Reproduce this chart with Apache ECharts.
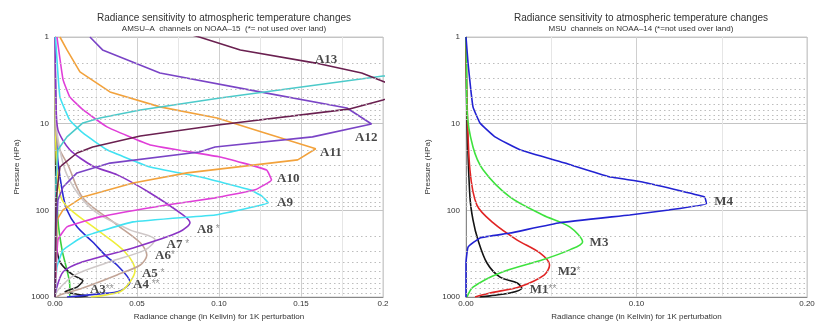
<!DOCTYPE html>
<html>
<head>
<meta charset="utf-8">
<script src="https://cdn.jsdelivr.net/npm/echarts@6/dist/echarts.min.js"></script>
<style>
html,body{margin:0;padding:0;background:#fff;}
#c{width:819px;height:326px;}
</style>
</head>
<body>
<div id="c"></div>
<script>
// ---------- DATA: [radiance change (K), pressure (hPa)] ----------
// AMSU-A (left panel)
const a13 = [[0.070,0.8],[0.088,1],[0.113,1.41],[0.159,2.0],[0.187,2.6],[0.201,3.3],[0.215,4.2],[0.200,5.33],[0.179,6.8],[0.1006,10.3],[0.052,13.9],[0.023,18.6],[0.0134,21.8],[0.003,31.6],[0.0006,76],[0,1000]];
const a14 = [[0.30,1],[0.32,1.8],[0.200,2.82],[0.1006,5.05],[0.052,6.95],[0.0274,8.6],[0.017,9.8],[0.0073,14.2],[0.0018,20],[0.0006,44.6],[0,1000]];
const a12 = [[0.0213,1],[0.029,1.41],[0.064,2.6],[0.125,4.3],[0.178,6.6],[0.193,10.1],[0.157,14.2],[0.0976,18.6],[0.088,21.2],[0.0335,28.5],[0.0134,37],[0.0049,53.8],[0.0018,76],[0.0006,168],[0,1000]];
const a11 = [[0.003,1],[0.0073,1.41],[0.0152,2.53],[0.0335,4.3],[0.064,6.4],[0.0988,8.6],[0.128,12.8],[0.159,19.5],[0.148,26.2],[0.0805,37],[0.0476,48.4],[0.017,70],[0.0049,99],[0.0012,129],[0,1000]];
const a10 = [[0.0012,1],[0.0049,3.1],[0.009,4.9],[0.017,6.9],[0.0317,10.9],[0.058,17.6],[0.1006,24.2],[0.129,34.2],[0.132,44.6],[0.122,58],[0.0976,71.8],[0.068,86.7],[0.0274,119],[0.0073,155],[0.0018,219],[0,1000]];
const a9  = [[0.0003,1],[0.003,4.9],[0.009,9.1],[0.017,12.8],[0.0317,20],[0.058,31.6],[0.088,41],[0.119,58],[0.126,68],[0.130,82],[0.118,94],[0.0976,113],[0.0476,136],[0.017,202],[0.0049,287],[0.0012,450],[0,1000]];
const a8  = [[0,1],[0.0006,5.3],[0.0018,11.8],[0.009,20],[0.023,30.8],[0.038,39],[0.058,63],[0.078,113],[0.0823,139],[0.076,177],[0.0476,272],[0.017,393],[0.0049,515],[0.0006,830],[0,1000]];
const a7  = [[0,1],[0.0006,9],[0.003,20],[0.0073,39],[0.017,76],[0.0274,113],[0.0457,168],[0.061,219],[0.055,286],[0.0335,393],[0.0122,556],[0.0018,830],[0,1000]];
const a6  = [[0,1],[0.0006,11.8],[0.003,20],[0.0079,30],[0.017,72],[0.0378,147],[0.052,237],[0.056,327],[0.052,427],[0.0378,556],[0.017,785],[0.003,950],[0.001,1000]];
const a5  = [[0,1],[0.0006,20],[0.0018,45],[0.0043,76],[0.011,104],[0.0274,177],[0.0427,302],[0.0488,490],[0.0457,670],[0.0396,870],[0.022,1000]];
const a4  = [[0,1],[0.0012,20],[0.0043,58],[0.0073,99],[0.0134,155],[0.023,232],[0.0317,345],[0.0378,427],[0.0457,670],[0.0396,850],[0.0274,920],[0.0073,1000]];
const a3  = [[0,1],[0.0006,76],[0.0012,286],[0.003,393],[0.0073,490],[0.0122,575],[0.017,650],[0.0134,770],[0.0061,870],[0.0152,940],[0.020,975],[0.012,1000]];
const a2  = [[0,1],[0.0006,20],[0.0018,129],[0.0043,286],[0.0073,490],[0.009,730],[0.009,1000]];
// MSU (right panel)
const m4 = [[0,1],[0.0012,2],[0.0041,6.4],[0.0082,9.8],[0.017,14.2],[0.0316,20],[0.058,28.5],[0.084,41],[0.1035,47],[0.140,70],[0.141,84],[0.119,99],[0.096,113],[0.055,139],[0.0257,183],[0.0082,208],[0.0012,265],[0,405],[0,1000]];
const m3 = [[0,1],[0.0003,2],[0.0006,7],[0.0041,18.6],[0.010,34],[0.0257,70],[0.045,113],[0.0608,155],[0.0684,232],[0.0608,286],[0.045,372],[0.0199,527],[0.0041,770],[0.0006,1000]];
const m2 = [[0,1],[0.0006,5.3],[0.0023,34],[0.0064,87],[0.0158,139],[0.0298,219],[0.0433,310],[0.049,426],[0.046,555],[0.0316,760],[0.014,900],[0.0053,1000]];
const m1 = [[0,1],[0.0006,9],[0.0023,70],[0.0041,129],[0.007,219],[0.0123,405],[0.020,590],[0.030,690],[0.0327,790],[0.0257,900],[0.014,970],[0.008,1000]];

// curve labels: [x, pressure, name, stars]
const leftLabels = [[0.1585,1.84,'A13',''],[0.183,14.6,'A12',''],[0.1616,21.8,'A11',''],[0.1354,43.6,'A10',''],[0.1354,82,'A9',''],[0.0866,168,'A8',' *'],[0.068,251,'A7',' *'],[0.061,335,'A6','*'],[0.053,540,'A5',' *'],[0.0476,727,'A4',' **'],[0.0213,828,'A3','**']];
const rightLabels = [[0.1456,80,'M4',''],[0.0725,237,'M3',''],[0.0538,515,'M2','*'],[0.0374,828,'M1','**']];

// tick labels / minor pressure grid
const pressureTicks = [1,10,100,1000];
const minorPressure = [2,3,4,5,6,7,8,9,20,30,40,50,60,70,80,90,200,300,400,500,600,700,800,900];
const leftTitle = 'Radiance sensitivity to atmospheric temperature changes';
const leftSub = 'AMSU\u2013A  channels on NOAA\u201315  (*= not used over land)';
const rightTitle = 'Radiance sensitivity to atmospheric temperature changes';
const rightSub = 'MSU  channels on NOAA\u201314 (*=not used over land)';
const xName = 'Radiance change (in Kelivin) for 1K perturbation';
const yName = 'Pressure (HPa)';

// ---------- CHART ----------
const chart = echarts.init(document.getElementById('c'), null, {renderer:'canvas'});
const font = 'Liberation Sans, Arial, sans-serif';

function xAxis(grid, interval, fmt){
  return {
    type:'value', gridIndex:grid, min:0, max:0.2, interval:interval,
    name:xName, nameLocation:'middle', nameGap:16,
    nameTextStyle:{fontFamily:font,fontSize:8,color:'#333'},
    axisLine:{show:true,lineStyle:{color:'#888',width:1}},
    axisTick:{show:false},
    axisLabel:{fontFamily:font,fontSize:8,color:'#333',margin:3,formatter:fmt},
    splitLine:{show:true,lineStyle:{color:'#cfcfcf',width:1}},
    minorTick:{show:false,splitNumber:2},
    minorSplitLine:{show:true,lineStyle:{color:'#e6e6e6',width:1}}
  };
}
function yAxis(grid){
  return {
    type:'log', logBase:10, gridIndex:grid, min:1, max:1000, inverse:true,
    name:yName, nameLocation:'middle', nameGap:34, nameRotate:90,
    nameTextStyle:{fontFamily:font,fontSize:8,color:'#333'},
    axisLine:{show:true,lineStyle:{color:'#888',width:1}},
    axisTick:{show:false},
    axisLabel:{fontFamily:font,fontSize:8,color:'#333',margin:6,
      formatter:v=>pressureTicks.includes(Math.round(v))?String(Math.round(v)):''},
    splitLine:{show:true,lineStyle:{color:'#c4c4c4',width:1}}
  };
}
function curve(name, data, color, xi, smooth){
  return {type:'line', name:name, data:data, xAxisIndex:xi, yAxisIndex:xi,
    showSymbol:false, symbol:'none', smooth:smooth, clip:true,
    lineStyle:{color:color,width:1.6}, silent:true, animation:false};
}
function gridMinor(xi){
  return {type:'line', data:[], xAxisIndex:xi, yAxisIndex:xi, silent:true, animation:false,
    markLine:{silent:true, symbol:'none', label:{show:false}, animation:false,
      lineStyle:{type:[1.5,3],color:'#bdbdbd',width:1},
      data:minorPressure.map(p=>({yAxis:p}))}};
}
function labels(arr, xi){
  return {type:'scatter', xAxisIndex:xi, yAxisIndex:xi, symbolSize:0, silent:true, animation:false, z:10,
    data:arr.map(d=>({value:[d[0],d[1]], name:d[2]})),
    label:{show:true, position:'right', distance:0,
      formatter:p=>{const s=arr[p.dataIndex][3]; return '{n|'+p.name+'}'+(s?'{s|'+s+'}':'');},
      rich:{n:{fontFamily:'Liberation Serif, Times New Roman, serif',fontWeight:'bold',fontSize:13,color:'#1a1a1a'},
            s:{fontFamily:font,fontSize:10,color:'#777',padding:[0,0,2,0]}}}};
}

const option = {
  backgroundColor:'#fff',
  animation:false,
  title:[
    {text:leftTitle, subtext:leftSub, left:219, top:8, textAlign:'center', itemGap:2,
      textStyle:{fontFamily:font,fontSize:10,fontWeight:'normal',color:'#333'},
      subtextStyle:{fontFamily:font,fontSize:8,color:'#333'}},
    {text:rightTitle, subtext:rightSub, left:636, top:8, textAlign:'center', itemGap:2,
      textStyle:{fontFamily:font,fontSize:10,fontWeight:'normal',color:'#333'},
      subtextStyle:{fontFamily:font,fontSize:8,color:'#333'}}
  ],
  grid:[
    {left:55, top:37, width:328, height:260, show:true, borderColor:'#c8c8c8', borderWidth:1},
    {left:466, top:37, width:341, height:260, show:true, borderColor:'#c8c8c8', borderWidth:1}
  ],
  xAxis:[
    xAxis(0,0.05,v=>Math.abs(v-0.2)<1e-9?'0.2':v.toFixed(2)),
    xAxis(1,0.1,v=>v.toFixed(2))
  ],
  yAxis:[yAxis(0), yAxis(1)],
  series:[
    gridMinor(0), gridMinor(1),
    curve('A1/A2', a2, '#3ccf3c', 0, 0.3),
    curve('A3', a3, '#1e1e1e', 0, 0.2),
    curve('A4', a4, '#2a2ad2', 0, 0.3),
    curve('A5', a5, '#eeee3a', 0, 0.3),
    curve('A6', a6, '#c2a496', 0, 0.3),
    curve('A7', a7, '#cfc8c8', 0, 0.3),
    curve('A8', a8, '#8a34c4', 0, 0.25),
    curve('A9', a9, '#42e2f2', 0, 0.1),
    curve('A10', a10, '#e03ed8', 0, 0.1),
    curve('A11', a11, '#f2a23c', 0, false),
    curve('A12', a12, '#7a44c6', 0, false),
    curve('A14', a14, '#4ccaca', 0, false),
    curve('A13', a13, '#6a2050', 0, false),
    curve('M1', m1, '#141414', 1, 0.3),
    curve('M2', m2, '#e02424', 1, 0.3),
    curve('M3', m3, '#3ee23e', 1, 0.3),
    curve('M4', m4, '#2222d2', 1, 0.1),
    labels(leftLabels, 0),
    labels(rightLabels, 1)
  ]
};
chart.setOption(option);
</script>
</body>
</html>
